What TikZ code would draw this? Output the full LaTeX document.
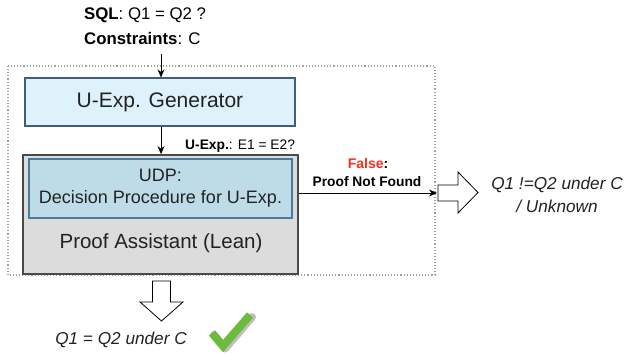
\documentclass[tikz,border=0pt]{standalone}
\usepackage{fontspec}
\setmainfont{Liberation Sans}
\usetikzlibrary{arrows.meta}
\definecolor{genfill}{HTML}{DDF2FA}
\definecolor{genline}{HTML}{3F5E7E}
\definecolor{udpfill}{HTML}{BEDCE8}
\definecolor{udpline}{HTML}{4B7A9A}
\definecolor{pafill}{HTML}{DCDCDD}
\definecolor{paline}{HTML}{4A4A4A}
\definecolor{falsered}{HTML}{F0321E}
\definecolor{checkgreen}{HTML}{6CBB3C}
\definecolor{txt}{HTML}{222222}
\tikzset{
  boxbase/.style={draw, rectangle, inner sep=0pt, text=txt, align=center},
  conn/.style={-{Stealth[length=8pt,width=7pt]}, line width=0.9pt, black},
  blockarrow/.style={draw=black, fill=white, line width=0.8pt, line join=miter},
}
\begin{document}
\begin{tikzpicture}[x=1pt,y=-1pt]
\useasboundingbox (0,0) rectangle (629,354);
% outer dotted frame
\draw[dotted, line width=1.1pt, gray!75] (8,66) rectangle (435,275);
% top text
\node[anchor=west, inner sep=0pt, font=\fontsize{16.8}{20}\selectfont, text=black] (sql) at (84,15) {\textbf{SQL}: Q1 = Q2 ?};
\node[anchor=west, inner sep=0pt, font=\fontsize{16.8}{20}\selectfont, text=black] (cons) at (84,38) {\textbf{Constraints}: C};
\coordinate (intop) at (161,54);
% generator
\node[boxbase, fill=genfill, draw=genline, line width=1.2pt, minimum width=270pt, minimum height=48pt, font=\fontsize{21}{24}\selectfont] (gen) at (160,102) {U-Exp. Generator};
% proof assistant
\node[boxbase, fill=pafill, draw=paline, line width=1.8pt, minimum width=275pt, minimum height=119pt] (pa) at (160.5,214.5) {};
\node[inner sep=0pt, font=\fontsize{20.5}{24}\selectfont, text=txt] (patext) at (161,243) {Proof Assistant (Lean)};
% UDP
\node[boxbase, fill=udpfill, draw=udpline, line width=1.2pt, minimum width=263pt, minimum height=59pt, font=\fontsize{18}{22}\selectfont] (udp) at (160.5,188.5) {UDP:\\Decision Procedure for U-Exp.};
% connectors
\draw[conn] (intop) -- (intop |- gen.north);
\draw[conn] (gen.south -| intop) -- (intop |- pa.north);
\node[anchor=west, inner sep=0pt, font=\fontsize{13.8}{16}\selectfont, text=black] (uexp) at (185,146) {\textbf{U-Exp.}: E1 = E2?};
\coordinate (falseend) at (437,193);
\draw[conn] (pa.east |- falseend) -- (falseend);
\node[inner sep=0pt, font=\bfseries\fontsize{14}{16}\selectfont] (false) at (368,163) {\textcolor{falsered}{False}:};
\node[inner sep=0pt, font=\bfseries\fontsize{13.8}{16}\selectfont, text=black] (pnf) at (367,182) {Proof Not Found};
% right block arrow
\draw[blockarrow] (438,185) -- (458,185) -- (458,172) -- (478,192.5) -- (458,213) -- (458,201) -- (438,201) -- cycle;
\node[inner sep=0pt, align=center, font=\itshape\fontsize{17.2}{23}\selectfont, text=txt] (neq) at (557,194.5) {Q1 !=Q2 under C\\/ Unknown};
% down block arrow
\draw[blockarrow] (152.5,281) -- (170.5,281) -- (170.5,302) -- (183,302) -- (161.5,321) -- (140,302) -- (152.5,302) -- cycle;
\node[inner sep=0pt, font=\itshape\fontsize{17.2}{20}\selectfont, text=txt] (eq) at (121,340) {Q1 = Q2 under C};
% check mark
\draw[black!25, line width=8pt, line cap=round, line join=round] (214,335) -- (225,348.5) -- (252,317);
\draw[checkgreen, line width=8pt, line join=miter] (212,333) -- (223,346) -- (250,315);
\end{tikzpicture}
\end{document}
